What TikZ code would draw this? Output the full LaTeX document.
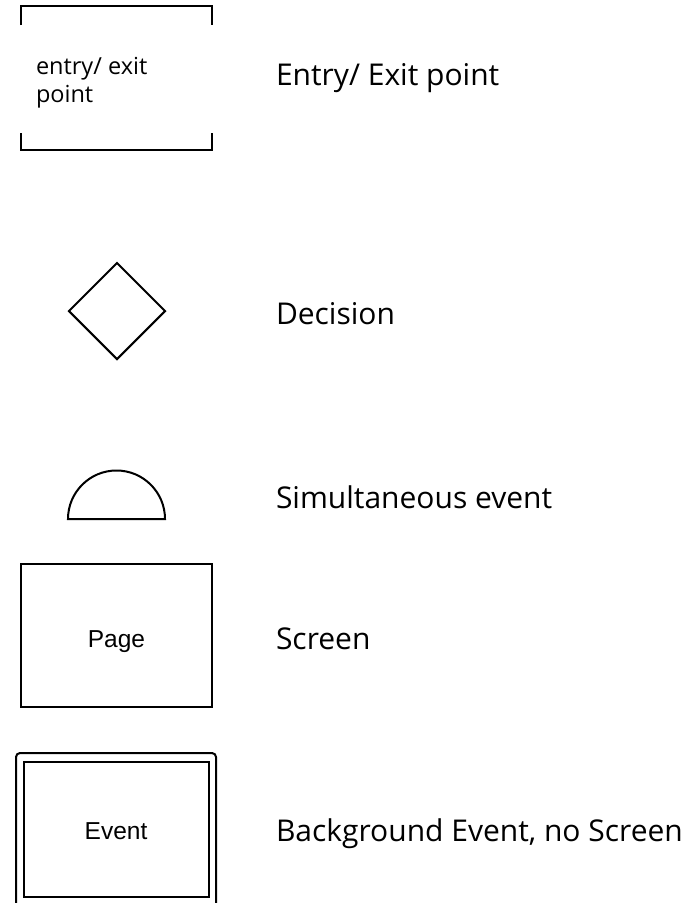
\documentclass[tikz,border=0pt]{standalone}
\usepackage{fontspec}
\setmainfont{Open Sans}
\newfontfamily\arialfont{Liberation Sans}
\usetikzlibrary{shapes.geometric,positioning,calc}

\begin{document}
\begin{tikzpicture}[
    x=1pt, y=-1pt,
    line width=2pt,
    symbox/.style={rectangle, draw=black, line width=2pt, minimum width=191pt, minimum height=143pt, text height=24pt, text depth=0pt, font=\arialfont\fontsize{24.5}{28}\selectfont},
    outerbox/.style={rectangle, draw=black, line width=2pt, rounded corners=4pt, minimum width=200pt, minimum height=160pt},
    decide/.style={diamond, draw=black, line width=2pt, inner sep=0pt, minimum width=97pt, minimum height=97pt},
    legend/.style={anchor=base west, inner sep=0pt, font=\fontsize{30}{34}\selectfont},
    smalltxt/.style={anchor=base west, inner sep=0pt, font=\fontsize{23.5}{28}\selectfont}
]
    \useasboundingbox (0,0) rectangle (691,903);

    % entry / exit point
    \node [smalltxt] (entrytxt) at (35,102) {\begin{tabular}[b]{@{}l@{}}entry/ exit\\point\end{tabular}};
    \coordinate (tl) at (21,6);
    \coordinate (tr) at (212,6);
    \coordinate (bl) at (21,150);
    \coordinate (br) at (212,150);
    \draw (tl) ++(0,19) -- (tl) -- (tr) -- ++(0,19);
    \draw (bl) ++(0,-17) -- (bl) -- (br) -- ++(0,-17);
    \node [legend] (l1) at (275,85) {Entry/ Exit point};

    % decision
    \node [decide] (dec) at (117,311) {};
    \node [legend] (l2) at (275,324) {Decision};

    % simultaneous event
    \coordinate (semi) at (68,519);
    \draw (semi) arc[start angle=180, end angle=0, radius=48.5pt] -- cycle;
    \node [legend] (l3) at (275,508) {Simultaneous event};

    % screen
    \node [symbox] (page) at (116.5,635.5) {Page};
    \node [legend] (l4) at (275,649) {Screen};

    % background event
    \node [outerbox] (evout) at (116,833) {};
    \node [symbox, minimum width=185pt, minimum height=135pt, text height=20pt] (ev) at (116,829.5) {Event};
    \node [legend] (l5) at (275,841) {Background Event, no Screen};
\end{tikzpicture}
\end{document}
